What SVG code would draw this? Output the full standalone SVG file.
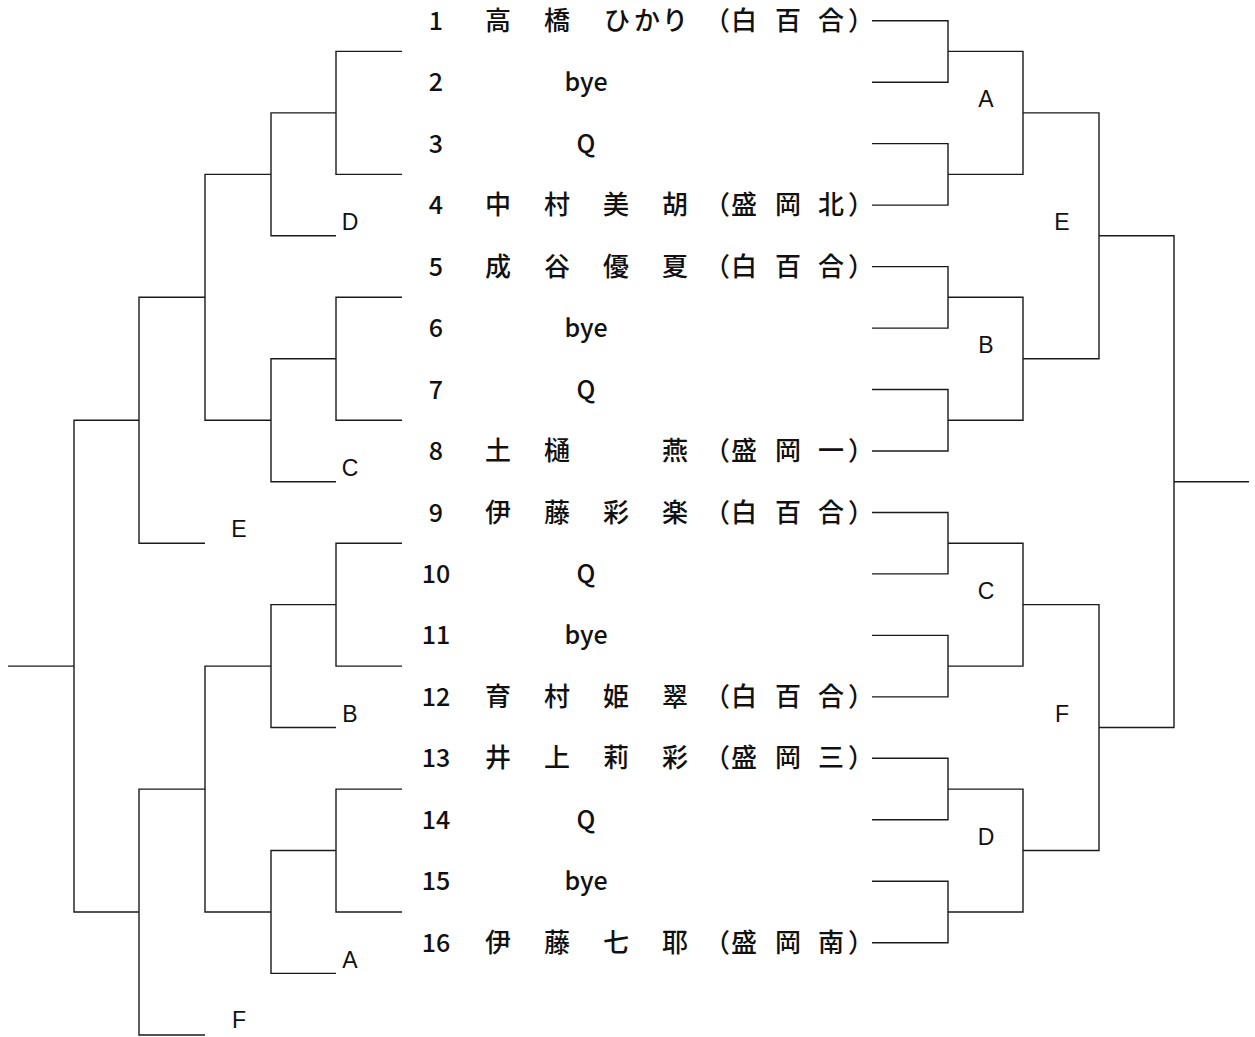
<svg xmlns="http://www.w3.org/2000/svg" width="1255" height="1037" viewBox="0 0 1255 1037">
<style>
.bg{fill:#ffffff}
.ln{fill:none;stroke:#1a1a1a;stroke-width:1.4}
.nm{font-family:"Noto Sans CJK JP","Noto Sans CJK SC",sans-serif;font-size:26px;font-weight:500;fill:#111}
.no{font-family:"Noto Sans CJK JP","Noto Sans CJK SC",sans-serif;font-size:25px;font-weight:500;fill:#111;text-anchor:middle}
.ct{font-family:"Noto Sans CJK JP","Noto Sans CJK SC",sans-serif;font-size:25px;font-weight:500;fill:#111;text-anchor:middle}
.lb{font-family:"Liberation Sans",Arial,sans-serif;font-size:23px;fill:#111;text-anchor:middle}
</style>
<rect class="bg" x="0" y="0" width="1255" height="1037"/>
<g id="connectors" class="ln">
<path d="M872 20.7H948V82.2H872"/>
<path d="M872 143.6H948V205.1H872"/>
<path d="M872 266.6H948V328.1H872"/>
<path d="M872 389.5H948V451H872"/>
<path d="M872 512.5H948V573.9H872"/>
<path d="M872 635.4H948V696.9H872"/>
<path d="M872 758.3H948V819.8H872"/>
<path d="M872 881.3H948V942.8H872"/>
<path d="M948 51.4H1023V174.4H948"/>
<path d="M948 297.3H1023V420.2H948"/>
<path d="M948 543.2H1023V666.1H948"/>
<path d="M948 789.1H1023V912H948"/>
<path d="M1023 112.9H1099V358.8H1023"/>
<path d="M1023 604.6H1099V850.5H1023"/>
<path d="M1099 235.8H1174V727.5H1099"/>
<path d="M1174 481.7H1249"/>
<path d="M402 51.4H336V174.4H402"/>
<path d="M402 297.3H336V420.2H402"/>
<path d="M402 543.2H336V666.1H402"/>
<path d="M402 789.1H336V912H402"/>
<path d="M336 112.9H271V235.8H336"/>
<path d="M336 358.8H271V481.7H336"/>
<path d="M336 604.6H271V727.5H336"/>
<path d="M336 850.5H271V973.4H336"/>
<path d="M271 174.4H205V420.2H271"/>
<path d="M271 666.1H205V912H271"/>
<path d="M205 297.3H139V543.2H205"/>
<path d="M205 789.1H139V1035H205"/>
<path d="M139 420.2H74V912H139"/>
<path d="M74 666.1H8"/>
</g>
<g id="labels" class="lb">
<text x="986" y="107">A</text>
<text x="986" y="353">B</text>
<text x="986" y="599">C</text>
<text x="986" y="845">D</text>
<text x="1062" y="230">E</text>
<text x="1062" y="722">F</text>
<text x="350" y="230">D</text>
<text x="350" y="476">C</text>
<text x="350" y="722">B</text>
<text x="350" y="968">A</text>
<text x="239" y="537">E</text>
<text x="239" y="1028">F</text>
</g>
<g id="p1"><text class="no" x="436" y="29.7">1</text><text class="nm" x="485 544 604 634 662 704 731 775 818 848" y="29.7">高橋ひかり（白百合）</text></g>
<g id="p2"><text class="no" x="436" y="91.2">2</text><text class="ct" x="586" y="91.2">bye</text></g>
<g id="p3"><text class="no" x="436" y="152.6">3</text><text class="ct" x="586" y="152.6">Q</text></g>
<g id="p4"><text class="no" x="436" y="214.1">4</text><text class="nm" x="485 544 603 662 704 731 775 818 848" y="214.1">中村美胡（盛岡北）</text></g>
<g id="p5"><text class="no" x="436" y="275.6">5</text><text class="nm" x="485 544 603 662 704 731 775 818 848" y="275.6">成谷優夏（白百合）</text></g>
<g id="p6"><text class="no" x="436" y="337.1">6</text><text class="ct" x="586" y="337.1">bye</text></g>
<g id="p7"><text class="no" x="436" y="398.5">7</text><text class="ct" x="586" y="398.5">Q</text></g>
<g id="p8"><text class="no" x="436" y="460">8</text><text class="nm" x="485 544 662 704 731 775 818 848" y="460">土樋燕（盛岡一）</text></g>
<g id="p9"><text class="no" x="436" y="521.5">9</text><text class="nm" x="485 544 603 662 704 731 775 818 848" y="521.5">伊藤彩楽（白百合）</text></g>
<g id="p10"><text class="no" x="436" y="582.9">10</text><text class="ct" x="586" y="582.9">Q</text></g>
<g id="p11"><text class="no" x="436" y="644.4">11</text><text class="ct" x="586" y="644.4">bye</text></g>
<g id="p12"><text class="no" x="436" y="705.9">12</text><text class="nm" x="485 544 603 662 704 731 775 818 848" y="705.9">育村姫翠（白百合）</text></g>
<g id="p13"><text class="no" x="436" y="767.3">13</text><text class="nm" x="485 544 603 662 704 731 775 818 848" y="767.3">井上莉彩（盛岡三）</text></g>
<g id="p14"><text class="no" x="436" y="828.8">14</text><text class="ct" x="586" y="828.8">Q</text></g>
<g id="p15"><text class="no" x="436" y="890.3">15</text><text class="ct" x="586" y="890.3">bye</text></g>
<g id="p16"><text class="no" x="436" y="951.8">16</text><text class="nm" x="485 544 603 662 704 731 775 818 848" y="951.8">伊藤七耶（盛岡南）</text></g>
</svg>
